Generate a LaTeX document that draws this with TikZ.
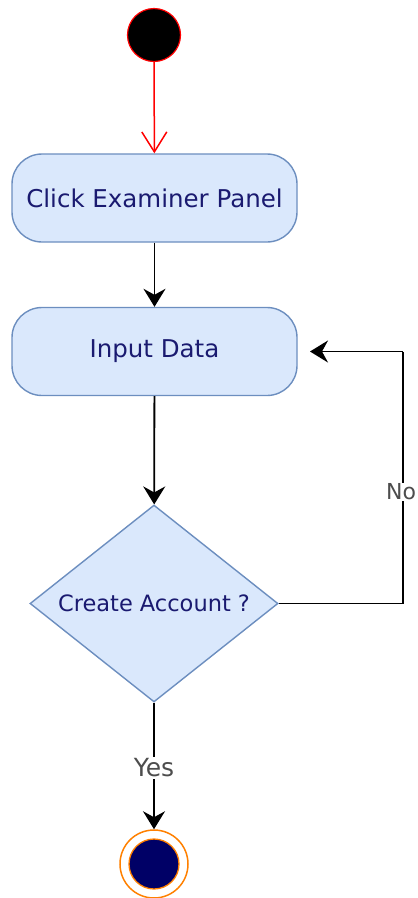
\documentclass[tikz,border=0pt]{standalone}
\usepackage{fontspec}
\setmainfont{DejaVu Sans}
\usetikzlibrary{arrows.meta,shapes.geometric}
\definecolor{boxfill}{HTML}{DAE8FC}
\definecolor{boxline}{HTML}{6C8EBF}
\definecolor{txt}{HTML}{1A1A70}
\definecolor{lbl}{HTML}{4D4D4D}
\definecolor{endfill}{HTML}{000066}
\definecolor{endring}{HTML}{FF8000}
\tikzset{
  actbox/.style={draw=boxline, fill=boxfill, line width=1.4pt, rounded corners=30pt,
    minimum width=285pt, minimum height=88pt, inner sep=0pt, text=txt, font=\fontsize{24.5}{28}\selectfont},
  decide/.style={draw=boxline, fill=boxfill, line width=1.4pt, diamond, aspect=1.26,
    minimum width=248pt, minimum height=197pt, inner sep=0pt, text=txt, font=\fontsize{22.5}{26}\selectfont},
  flow/.style={draw=black, line width=1.8pt, -{Stealth[length=18pt,width=22pt,inset=6pt]}},
  startflow/.style={draw=red, line width=1.5pt, -{Straight Barb[length=20pt,width=25pt,line width=1.5pt]}},
  lab/.style={fill=white, text=lbl, font=\fontsize{25}{29}\selectfont, inner sep=2pt}
}
\begin{document}
\begin{tikzpicture}[x=1pt,y=-1pt]
\useasboundingbox (0,0) rectangle (418,898);
\node[circle, draw=red, fill=black, line width=1.2pt, minimum size=53pt, inner sep=0pt] (start) at (154,35) {};
\node[actbox] (click) at (154.5,198) {Click Examiner Panel};
\node[actbox] (input) at (154.5,351.5) {Input Data};
\node[decide] (dec) at (154,603.5) {Create Account ?};
\node[circle, draw=endring, line width=1.5pt, minimum size=68pt, inner sep=0pt] (endo) at (154,864) {};
\node[circle, draw=endring, fill=endfill, line width=1.3pt, minimum size=50pt, inner sep=0pt] (endi) at (154,864) {};
\coordinate (c1) at (403,603.5);
\coordinate (c2) at (403,351.5);
\coordinate (c3) at (310,351.5);
\draw[startflow] (start) -- (click);
\draw[flow] (click) -- (input);
\draw[flow] (input) -- (dec);
\draw[line width=1.8pt] (dec.east) -- (c1) -- (c2);
\draw[flow] (c2) -- (c3);
\node[lab, font=\fontsize{22}{26}\selectfont, inner sep=1pt] at (401,492) {No};
\draw[flow] (dec.south) -- (endo.north);
\node[lab] at (154,768) {Yes};
\end{tikzpicture}
\end{document}
